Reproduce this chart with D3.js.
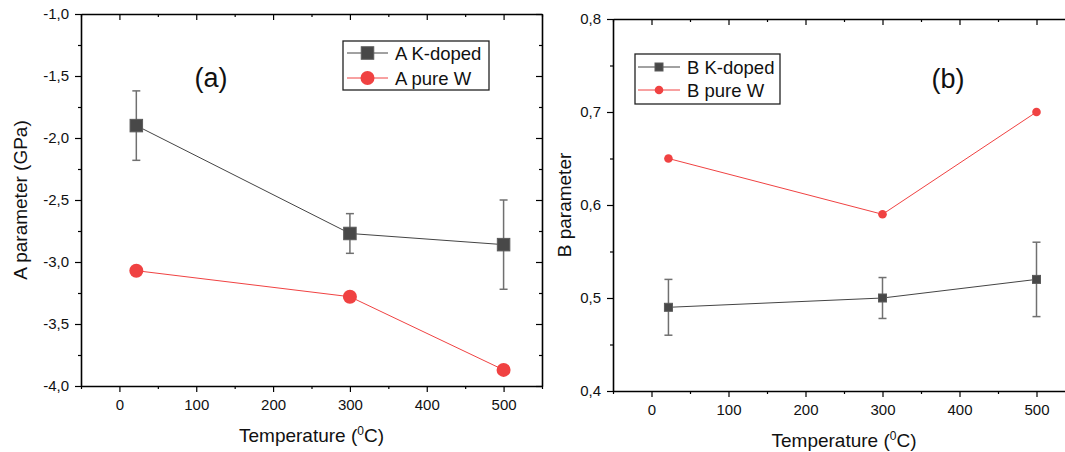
<!DOCTYPE html>
<html>
<head>
<meta charset="utf-8">
<script src="https://cdn.jsdelivr.net/npm/d3@7"></script>
<style>
  body { margin: 0; background: #fff; }
  svg { display: block; font-family: "Liberation Sans", Arial, sans-serif; }
</style>
</head>
<body>
<div id="chart"></div>
<script>
// values
let temperature = [22, 300, 500];

let aKdoped = [-1.90, -2.77, -2.86];
let aKdopedErr = [0.28, 0.16, 0.36];
let aPureW = [-3.07, -3.28, -3.87];

let bKdoped = [0.49, 0.50, 0.52];
let bKdopedErr = [0.03, 0.022, 0.04];
let bPureW = [0.65, 0.59, 0.70];

let xTicks = [0, 100, 200, 300, 400, 500];
let yTicksA = [-4.0, -3.5, -3.0, -2.5, -2.0, -1.5, -1.0];
let yTicksB = [0.4, 0.5, 0.6, 0.7, 0.8];

let width = 1065, height = 452;
let svg = d3.select('#chart').append('svg').attr('width', width).attr('height', height);
svg.append('rect').attr('width', width).attr('height', height).attr('fill', '#fff');

let commaLocale = d3.formatLocale({decimal: ',', thousands: '.', grouping: [3], currency: ['', ''], minus: '-'});
let fmt1 = commaLocale.format('.1f');

let darkGrey = '#484848';
let red = '#f04242';

let drawPanel = function(cfg){
  let xScale = d3.scaleLinear().domain([-50, 550]).range([cfg.left, cfg.right]);
  let yScale = d3.scaleLinear().domain(cfg.yDomain).range([cfg.bottom, cfg.top]);
  let g = svg.append('g').attr('class', 'panel');

  let xMinor = d3.range(-50, 551, 50).filter(v => xTicks.indexOf(v) < 0);
  let yMinor = cfg.yMinor;

  // minor ticks (no labels)
  let minorAxes = [
    [d3.axisBottom(xScale).tickValues(xMinor), 'translate(0,' + cfg.bottom + ')', 3],
    [d3.axisTop(xScale).tickValues(xMinor), 'translate(0,' + cfg.top + ')', -3],
    [d3.axisLeft(yScale).tickValues(yMinor), 'translate(' + cfg.left + ',0)', 3],
    [d3.axisRight(yScale).tickValues(yMinor), 'translate(' + cfg.right + ',0)', -3]
  ];
  minorAxes.forEach(a => {
    g.append('g').attr('transform', a[1])
      .call(a[0].tickSize(a[2]).tickSizeOuter(0).tickFormat(''))
      .call(s => s.select('.domain').remove());
  });

  // major ticks
  let xAxis = d3.axisBottom(xScale).tickValues(xTicks).tickSize(6).tickSizeOuter(0).tickPadding(7);
  g.append('g').attr('class', 'xAxis').attr('transform', 'translate(0,' + cfg.bottom + ')').call(xAxis);
  let xTop = d3.axisTop(xScale).tickValues(xTicks).tickSize(-6).tickSizeOuter(0).tickFormat('');
  g.append('g').attr('transform', 'translate(0,' + cfg.top + ')').call(xTop);

  let yAxis = d3.axisLeft(yScale).tickValues(cfg.yTicks).tickSize(6).tickSizeOuter(0).tickPadding(6).tickFormat(fmt1);
  g.append('g').attr('class', 'yAxis').attr('transform', 'translate(' + cfg.left + ',0)').call(yAxis);
  let yRight = d3.axisRight(yScale).tickValues(cfg.yTicks).tickSize(-6).tickSizeOuter(0).tickFormat('');
  g.append('g').attr('transform', 'translate(' + cfg.right + ',0)').call(yRight);

  g.selectAll('.domain').attr('stroke', '#000').attr('stroke-width', 1.6);
  g.selectAll('.tick line').attr('stroke', '#000').attr('stroke-width', 1.2);
  g.selectAll('.tick text').attr('font-size', 15).attr('fill', '#111')
    .attr('font-family', '"Liberation Sans", Arial, sans-serif');

  // axis titles
  let xt = g.append('text').attr('x', (cfg.left + cfg.right) / 2).attr('y', cfg.xTitleY)
    .attr('text-anchor', 'middle').attr('font-size', 19).attr('fill', '#111');
  xt.append('tspan').text('Temperature (');
  xt.append('tspan').text('0').attr('font-size', 12).attr('dy', -7);
  xt.append('tspan').text('C)').attr('dy', 7);

  g.append('text').text(cfg.yTitle)
    .attr('transform', 'translate(' + cfg.yTitleX + ',' + (cfg.top + cfg.bottom) / 2 + ') rotate(-90)')
    .attr('text-anchor', 'middle').attr('font-size', 19).attr('fill', '#111');

  // panel label
  g.append('text').text(cfg.label).attr('x', cfg.labelX).attr('y', cfg.labelY)
    .attr('text-anchor', 'middle').attr('font-size', 27).attr('fill', '#111');

  let line = d3.line().x((d, i) => xScale(temperature[i])).y(d => yScale(d));

  // series lines
  g.append('path').datum(cfg.kdoped).attr('d', line)
    .attr('fill', 'none').attr('stroke', '#444').attr('stroke-width', 1);
  g.append('path').datum(cfg.pure).attr('d', line)
    .attr('fill', 'none').attr('stroke', red).attr('stroke-width', 1);

  // error bars
  let errG = g.append('g').attr('class', 'errorbars');
  cfg.kdoped.forEach((v, i) => {
    let x = xScale(temperature[i]);
    let e = cfg.kdopedErr[i];
    errG.append('line').attr('x1', x).attr('x2', x)
      .attr('y1', yScale(v + e)).attr('y2', yScale(v - e));
    [v + e, v - e].forEach(c => {
      errG.append('line').attr('x1', x - 4).attr('x2', x + 4)
        .attr('y1', yScale(c)).attr('y2', yScale(c));
    });
  });
  errG.selectAll('line').attr('stroke', '#707070').attr('stroke-width', 1.5);

  // markers
  let s = cfg.squareSize;
  g.selectAll('.sq').data(cfg.kdoped).enter().append('rect').attr('class', 'sq')
    .attr('x', (d, i) => xScale(temperature[i]) - s / 2)
    .attr('y', d => yScale(d) - s / 2)
    .attr('width', s).attr('height', s)
    .attr('fill', darkGrey).attr('stroke', '#5a5a5a').attr('stroke-width', 1);
  g.selectAll('.dot').data(cfg.pure).enter().append('circle').attr('class', 'dot')
    .attr('cx', (d, i) => xScale(temperature[i]))
    .attr('cy', d => yScale(d))
    .attr('r', cfg.circleR)
    .attr('fill', red);

  // legend
  let L = cfg.legend;
  g.append('rect').attr('x', L.x).attr('y', L.y).attr('width', L.w).attr('height', L.h)
    .attr('fill', '#fff').attr('stroke', '#222').attr('stroke-width', 1.3);
  let rows = [
    {name: cfg.names[0], color: '#444', marker: 'square'},
    {name: cfg.names[1], color: red, marker: 'circle'}
  ];
  rows.forEach((r, i) => {
    let yy = L.row0 + i * L.rowGap;
    g.append('line').attr('x1', L.lineX0).attr('x2', L.lineX1).attr('y1', yy).attr('y2', yy)
      .attr('stroke', r.color).attr('stroke-width', 1);
    let mx = (L.lineX0 + L.lineX1) / 2;
    if(r.marker == 'square'){
      g.append('rect').attr('x', mx - s / 2).attr('y', yy - s / 2).attr('width', s).attr('height', s)
        .attr('fill', darkGrey).attr('stroke', '#5a5a5a').attr('stroke-width', 1);
    }else{
      g.append('circle').attr('cx', mx).attr('cy', yy).attr('r', cfg.circleR).attr('fill', red);
    }
    g.append('text').text(r.name).attr('x', L.textX).attr('y', yy + 6.5)
      .attr('font-size', 18.5).attr('fill', '#111');
  });
};

drawPanel({
  left: 81, right: 542, top: 14, bottom: 386,
  yDomain: [-4, -1], yTicks: yTicksA, yMinor: d3.range(-3.75, -1, 0.5),
  kdoped: aKdoped, kdopedErr: aKdopedErr, pure: aPureW,
  names: ['A K-doped', 'A pure W'],
  yTitle: 'A parameter (GPa)', yTitleX: 27, xTitleY: 442,
  label: '(a)', labelX: 211, labelY: 87,
  squareSize: 12.5, circleR: 7,
  legend: {x: 343, y: 41, w: 146, h: 49, row0: 53, rowGap: 25, lineX0: 347, lineX1: 388, textX: 395}
});

drawPanel({
  left: 613, right: 1075, top: 19, bottom: 391,
  yDomain: [0.4, 0.8], yTicks: yTicksB, yMinor: d3.range(0.45, 0.8, 0.1),
  kdoped: bKdoped, kdopedErr: bKdopedErr, pure: bPureW,
  names: ['B K-doped', 'B pure W'],
  yTitle: 'B parameter', yTitleX: 571, xTitleY: 447,
  label: '(b)', labelX: 948, labelY: 88,
  squareSize: 8, circleR: 4.3,
  legend: {x: 635, y: 54, w: 145, h: 50, row0: 67, rowGap: 23, lineX0: 638, lineX1: 680, textX: 687}
});
</script>
</body>
</html>
